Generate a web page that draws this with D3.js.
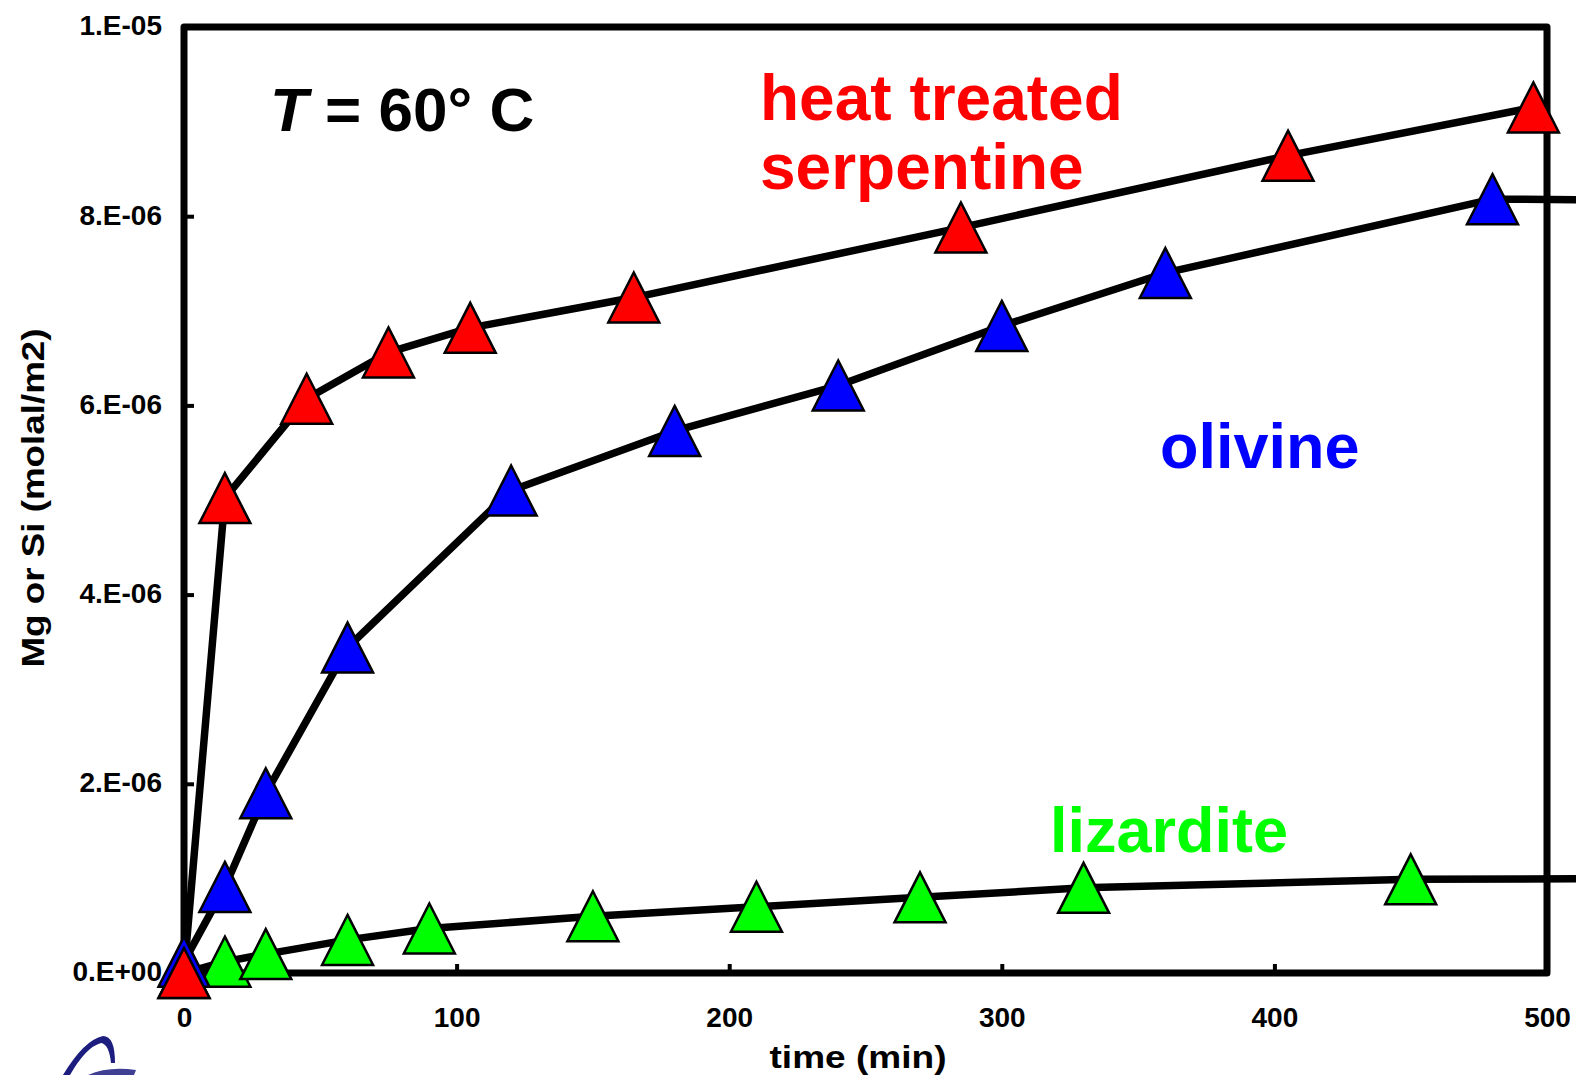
<!DOCTYPE html>
<html>
<head>
<meta charset="utf-8">
<script src="https://cdn.jsdelivr.net/npm/d3@7"></script>
<style>
  html, body { margin: 0; padding: 0; background: #fff; overflow: hidden; }
  svg { display: block; font-family: "Liberation Sans", Arial, sans-serif; }
</style>
</head>
<body>
<svg id="chart" width="1576" height="1075"></svg>
<script>
// Dissolution at 60 °C: time (min) vs Mg or Si concentration (molal/m2)
const serpTime = [0, 15, 45, 75, 105, 165, 285, 405, 495];
const serpValue = [0, 5.02e-6, 6.07e-6, 6.56e-6, 6.82e-6, 7.14e-6, 7.88e-6, 8.64e-6, 9.15e-6];

const olivTime = [0, 15, 30, 60, 120, 180, 240, 300, 360, 480, 540];
const olivValue = [0.12e-6, 0.91e-6, 1.9e-6, 3.44e-6, 5.1e-6, 5.73e-6, 6.21e-6, 6.84e-6, 7.4e-6, 8.18e-6, 8.17e-6];

const lizTime = [0, 15, 30, 60, 90, 150, 210, 270, 330, 450, 540];
const lizValue = [0, 0.12e-6, 0.2e-6, 0.35e-6, 0.47e-6, 0.6e-6, 0.7e-6, 0.8e-6, 0.9e-6, 0.99e-6, 1.0e-6];

const xTicks = [0, 100, 200, 300, 400, 500];
const yTicks = [0, 2e-6, 4e-6, 6e-6, 8e-6, 1e-5];
const yTickLabels = ["0.E+00", "2.E-06", "4.E-06", "6.E-06", "8.E-06", "1.E-05"];

const seriesList = [
  { name: "lizardite", time: lizTime, value: lizValue, color: "#00ff00" },
  { name: "olivine", time: olivTime, value: olivValue, color: "#0000ff" },
  { name: "heat treated serpentine", time: serpTime, value: serpValue, color: "#ff0000" }
];

const svg = d3.select("#chart");
const plotLeft = 184, plotRight = 1547, plotTop = 27, plotBottom = 973;

const x = d3.scaleLinear().domain([0, 500]).range([plotLeft, plotRight]);
const y = d3.scaleLinear().domain([0, 1e-5]).range([plotBottom, plotTop]);

// Y axis: inward ticks, Excel-style labels
const yAxis = d3.axisLeft(y)
  .tickValues(yTicks)
  .tickSizeInner(-10)
  .tickSizeOuter(0)
  .tickPadding(22)
  .tickFormat((d, i) => yTickLabels[i]);
const gy = svg.append("g").attr("transform", `translate(${plotLeft},0)`).call(yAxis);
gy.select(".domain").remove();
gy.selectAll(".tick line").attr("stroke", "#000").attr("stroke-width", 4);
gy.selectAll(".tick text")
  .attr("font-size", 28).attr("font-weight", "bold").attr("fill", "#000")
  .attr("dy", "0.28em");

// X axis
const xAxis = d3.axisBottom(x)
  .tickValues(xTicks)
  .tickSizeInner(-9)
  .tickSizeOuter(0)
  .tickPadding(34)
  .tickFormat(d3.format("d"));
const gx = svg.append("g").attr("transform", `translate(0,${plotBottom})`).call(xAxis);
gx.select(".domain").remove();
gx.selectAll(".tick line").attr("stroke", "#000").attr("stroke-width", 4);
gx.selectAll(".tick text")
  .attr("font-size", 28).attr("font-weight", "bold").attr("fill", "#000");

// Plot frame
svg.append("rect")
  .attr("x", plotLeft).attr("y", plotTop)
  .attr("width", plotRight - plotLeft).attr("height", plotBottom - plotTop)
  .attr("fill", "none").attr("stroke", "#000").attr("stroke-width", 7)
  .attr("stroke-linejoin", "round");

// Axis titles
svg.append("text")
  .attr("transform", "translate(44,498) rotate(-90)")
  .attr("text-anchor", "middle")
  .attr("font-size", 32).attr("font-weight", "bold")
  .attr("textLength", 339).attr("lengthAdjust", "spacingAndGlyphs")
  .text("Mg or Si (molal/m2)");

svg.append("text")
  .attr("x", 858).attr("y", 1068)
  .attr("text-anchor", "middle")
  .attr("font-size", 32).attr("font-weight", "bold")
  .attr("textLength", 177).attr("lengthAdjust", "spacingAndGlyphs")
  .text("time (min)");

// Series lines and triangle markers
const line = d3.line().x(d => x(d[0])).y(d => y(d[1]));
const tri = "M0,-25 L25.5,25 L-25.5,25 Z";

seriesList.forEach(s => {
  const pts = s.time.map((t, i) => [t, s.value[i]]);
  svg.append("path")
    .datum(pts)
    .attr("d", line)
    .attr("fill", "none").attr("stroke", "#000")
    .attr("stroke-width", 7.5).attr("stroke-linejoin", "round");
});
seriesList.forEach(s => {
  const pts = s.time.map((t, i) => [t, s.value[i]]);
  svg.append("g").selectAll("path")
    .data(pts)
    .join("path")
    .attr("transform", d => `translate(${x(d[0])},${y(d[1])})`)
    .attr("d", tri)
    .attr("fill", s.color).attr("stroke", "#000").attr("stroke-width", 2.5)
    .attr("stroke-linejoin", "miter");
});

// In-plot annotations
const temp = svg.append("text")
  .attr("x", 270).attr("y", 131)
  .attr("font-size", 62).attr("font-weight", "bold");
temp.append("tspan").attr("font-style", "italic").text("T");
temp.append("tspan").text(" = 60° C");

svg.append("text").attr("x", 760).attr("y", 120)
  .attr("font-size", 64).attr("font-weight", "bold").attr("fill", "#ff0000")
  .text("heat treated");
svg.append("text").attr("x", 760).attr("y", 189)
  .attr("font-size", 64).attr("font-weight", "bold").attr("fill", "#ff0000")
  .text("serpentine");
svg.append("text").attr("x", 1160).attr("y", 468)
  .attr("font-size", 63).attr("font-weight", "bold").attr("fill", "#0000ff")
  .text("olivine");
svg.append("text").attr("x", 1050).attr("y", 852)
  .attr("font-size", 63).attr("font-weight", "bold").attr("fill", "#00ff00")
  .text("lizardite");

// Corner emblem (partly cut off by the page edge)
const emblem = svg.append("g").attr("fill", "#1d1d80");
emblem.append("path")
  .attr("d", "M63,1075 Q84,1040 103,1036 Q115,1036 115,1063 L111,1063 Q109,1044 101,1043 Q86,1047 70,1075 Z");
emblem.append("path")
  .attr("d", "M88,1075 Q108,1066 136,1070 L134,1075 Z")
  .attr("opacity", 0.85);
</script>
</body>
</html>
